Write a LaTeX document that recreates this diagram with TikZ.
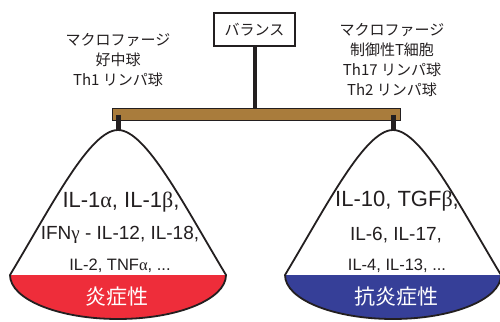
\documentclass[tikz,border=0pt]{standalone}
\usepackage{fontspec}
\setmainfont{Liberation Sans}
\newfontfamily\jp{Noto Sans CJK JP}
\newfontfamily\grk{Liberation Serif}
\definecolor{ink}{HTML}{231F20}
\definecolor{beamc}{HTML}{A97C3C}
\definecolor{inflam}{HTML}{EE2D3A}
\definecolor{anti}{HTML}{363F98}
\begin{document}
\begin{tikzpicture}[x=1pt,y=-1pt,
  every node/.style={text=ink},
  toplabel/.style={align=center,font=\jp\fontsize{15}{20}\selectfont,inner sep=0},
  bigtxt/.style={font=\fontsize{22}{26}\selectfont,inner sep=0},
  midtxt/.style={font=\fontsize{19}{22}\selectfont,inner sep=0},
  smalltxt/.style={font=\fontsize{16.5}{20}\selectfont,inner sep=0},
  bottxt/.style={font=\jp\fontsize{21}{24}\selectfont,text=white,inner sep=0},
  bell/.style={draw=ink,line width=1.8pt},
  hanger/.style={draw=ink,line width=5pt}]
\useasboundingbox (0,0) rectangle (500,321);

% balance box and post
\node[draw=ink,line width=2.5pt,minimum width=81pt,minimum height=33pt,inner sep=0,
      font=\jp\fontsize{15}{18}\selectfont] (balance) at (254.5,29.5) {バランス};
\node[draw=ink,fill=beamc,line width=1.6pt,minimum width=288pt,minimum height=12pt,inner sep=0] (beam) at (256.5,114.5) {};
\draw[ink,line width=4pt] (balance.south) -- (balance.south |- beam.north);

% apex coordinates
\coordinate (apexL) at (118,130);
\coordinate (apexR) at (393,130);
\draw[hanger] (apexL |- beam.center) -- (apexL);
\draw[hanger] (apexR |- beam.center) -- (apexR);

% left bell
\fill[white] (10,275) .. controls (52,205) and (90,130) .. (apexL) .. controls (146,130) and (184,205) .. (226,275) -- cycle;
\fill[inflam] (226,275) arc[start angle=0,end angle=180,x radius=108,y radius=44] -- cycle;
\draw[bell] (10,275) .. controls (52,205) and (90,130) .. (apexL) .. controls (146,130) and (184,205) .. (226,275)
   arc[start angle=0,end angle=180,x radius=108,y radius=44] -- cycle;

% right bell
\fill[white] (285,275) .. controls (327,205) and (365,130) .. (apexR) .. controls (421,130) and (459,205) .. (501,275) -- cycle;
\fill[anti] (501,275) arc[start angle=0,end angle=180,x radius=108,y radius=44] -- cycle;
\draw[bell] (285,275) .. controls (327,205) and (365,130) .. (apexR) .. controls (421,130) and (459,205) .. (501,275)
   arc[start angle=0,end angle=180,x radius=108,y radius=44] -- cycle;

% top labels
\node[toplabel] (cellsL) at (118,60) {マクロファージ\\好中球\\Th1 リンパ球};
\node[toplabel] (cellsR) at (392,60) {マクロファージ\\制御性T細胞\\Th17 リンパ球\\Th2 リンパ球};

% left texts
\node[bigtxt] (l1) at (121,202) {IL-1{\grk α}, IL-1{\grk β},};
\node[midtxt] (l2) at (120,235) {IFN{\grk γ} - IL-12, IL-18,};
\node[smalltxt] (l3) at (120,266) {IL-2, TNF{\grk α}, ...};
\node[bottxt] (l4) at (117,297) {炎症性};

% right texts
\node[bigtxt] (r1) at (397,201) {IL-10, TGF{\grk β},};
\node[midtxt] (r2) at (396,235) {IL-6, IL-17,};
\node[smalltxt] (r3) at (397,266) {IL-4, IL-13, ...};
\node[bottxt] (r4) at (396,297) {抗炎症性};
\end{tikzpicture}
\end{document}
